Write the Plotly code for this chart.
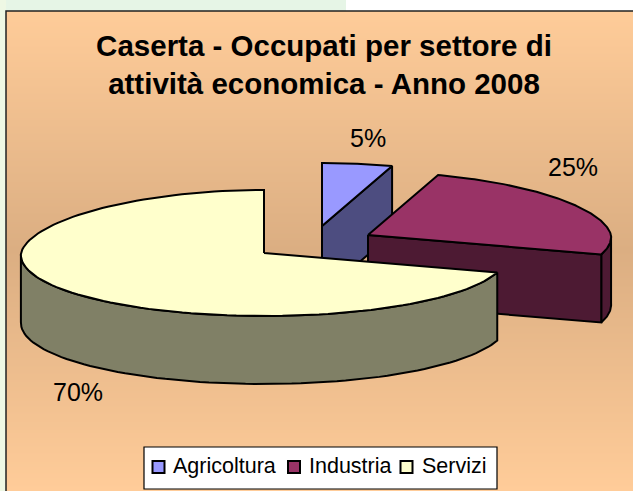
import numpy as np
import plotly.graph_objects as go

# Data
categories = ["Agricoltura", "Industria", "Servizi"]
shares = [5, 25, 70]
title_text = "Caserta - Occupati per settore di<br>attività economica - Anno 2008"

# Style
top_colors = ["#9999FF", "#993366", "#FFFFCC"]
side_colors = ["#4D4D80", "#4D1A33", "#808066"]
centers = [(322, 226), (368, 235), (264, 253)]
label_pos = [(368, 138), (573, 167), (78, 392)]
legend_swatch_x = [158.5, 294, 406.5]
legend_text_x = [171, 307, 420]
RX, RY, DEPTH = 243, 63, 68
K_BACK, K_FRONT = 0.07, 0.03
W, H = 633, 491
LINE = dict(color="#000000", width=2)

fig = go.Figure()


def ellipse(center, theta, drop=0):
    cx, cy = center
    cos_t = np.cos(theta)
    factor = 1 - np.where(cos_t > 0, K_BACK, K_FRONT) * cos_t
    return (cx + RX * np.sin(theta) * factor, cy - RY * cos_t + drop)


def poly(xs, ys, color):
    fig.add_trace(go.Scatter(x=list(xs), y=list(ys), mode="lines", fill="toself",
                             fillcolor=color, line=LINE, hoverinfo="skip",
                             showlegend=False))


# Background gradient for the chart panel (one brick per pixel row)
grad_edges = np.arange(11, H + 1)
grad_z = [[abs(y + 0.5 - 250) / 240] for y in grad_edges[:-1]]
fig.add_trace(go.Heatmap(x=[6, W], y=grad_edges, z=grad_z, showscale=False,
                         zmin=0, zmax=1, hoverinfo="skip",
                         colorscale=[[0, "#DBAE82"], [1, "#FFCC99"]]))

# Slices, back to front
total = sum(shares)
edges = 2 * np.pi * np.cumsum([0] + shares) / total
for i, c in enumerate(centers):
    a0, a1 = edges[i], edges[i + 1]
    th = np.linspace(a0, a1, 120)
    ax, ay = ellipse(c, th)
    # outer wall (front half of the visible ellipse only)
    vis = th[(th >= np.pi / 2) & (th <= 3 * np.pi / 2)]
    if len(vis) > 1:
        vx, vy = ellipse(c, vis)
        bx, by = ellipse(c, vis, DEPTH)
        poly(np.r_[vx, bx[::-1], vx[0]], np.r_[vy, by[::-1], vy[0]], side_colors[i])
    # radial wall on the edge that faces the viewer
    if a1 <= np.pi:
        ex, ey = ellipse(c, a1)
        poly([c[0], ex, ex, c[0], c[0]],
             [c[1], ey, ey + DEPTH, c[1] + DEPTH, c[1]], side_colors[i])
    # top face
    poly(np.r_[c[0], ax, c[0]], np.r_[c[1], ay, c[1]], top_colors[i])

# Percentage labels
for v, (lx, ly) in zip(shares, label_pos):
    fig.add_annotation(x=lx, y=ly, text=f"{v}%", showarrow=False,
                       font=dict(family="Liberation Sans", size=25, color="#000000"))

# Legend box
fig.add_shape(type="rect", x0=144, x1=497, y0=447, y1=489,
              fillcolor="#FFFFFF", line=dict(color="#000000", width=1.2), layer="above")
for name, col, sx, tx in zip(categories, top_colors, legend_swatch_x, legend_text_x):
    fig.add_annotation(x=tx, y=466, text=name, showarrow=False, xanchor="left",
                       font=dict(family="Liberation Sans", size=21.5, color="#000000"))
    fig.add_shape(type="rect", x0=sx - 6, x1=sx + 6, y0=461, y1=473, fillcolor=col,
                  line=dict(color="#000000", width=2), layer="above")

# Page strips and panel frame
fig.add_shape(type="rect", x0=0, x1=346, y0=0, y1=11, fillcolor="#E6F5E6",
              line=dict(width=0), layer="below")
fig.add_shape(type="rect", x0=0, x1=6, y0=0, y1=H, fillcolor="#EEF8E4",
              line=dict(width=0), layer="below")
fig.add_shape(type="rect", x0=6, x1=W + 5, y0=11, y1=H + 5, fillcolor="rgba(0,0,0,0)",
              line=dict(color="#222222", width=1.5), layer="above")

fig.update_layout(
    width=W, height=H, margin=dict(l=0, r=0, t=0, b=0),
    paper_bgcolor="#FFFFFF", plot_bgcolor="rgba(0,0,0,0)", showlegend=False,
    xaxis=dict(range=[0, W], visible=False, fixedrange=True),
    yaxis=dict(range=[H, 0], visible=False, fixedrange=True),
    title=dict(text=title_text, x=324 / W, xanchor="center", y=1 - 56 / H, yanchor="top",
               font=dict(family="Liberation Sans", size=29.5, color="#000000", weight="bold")),
)

fig.write_html("out.html", config={"displayModeBar": False},
               post_script="document.body.style.margin='0';document.body.style.overflow='hidden';")
